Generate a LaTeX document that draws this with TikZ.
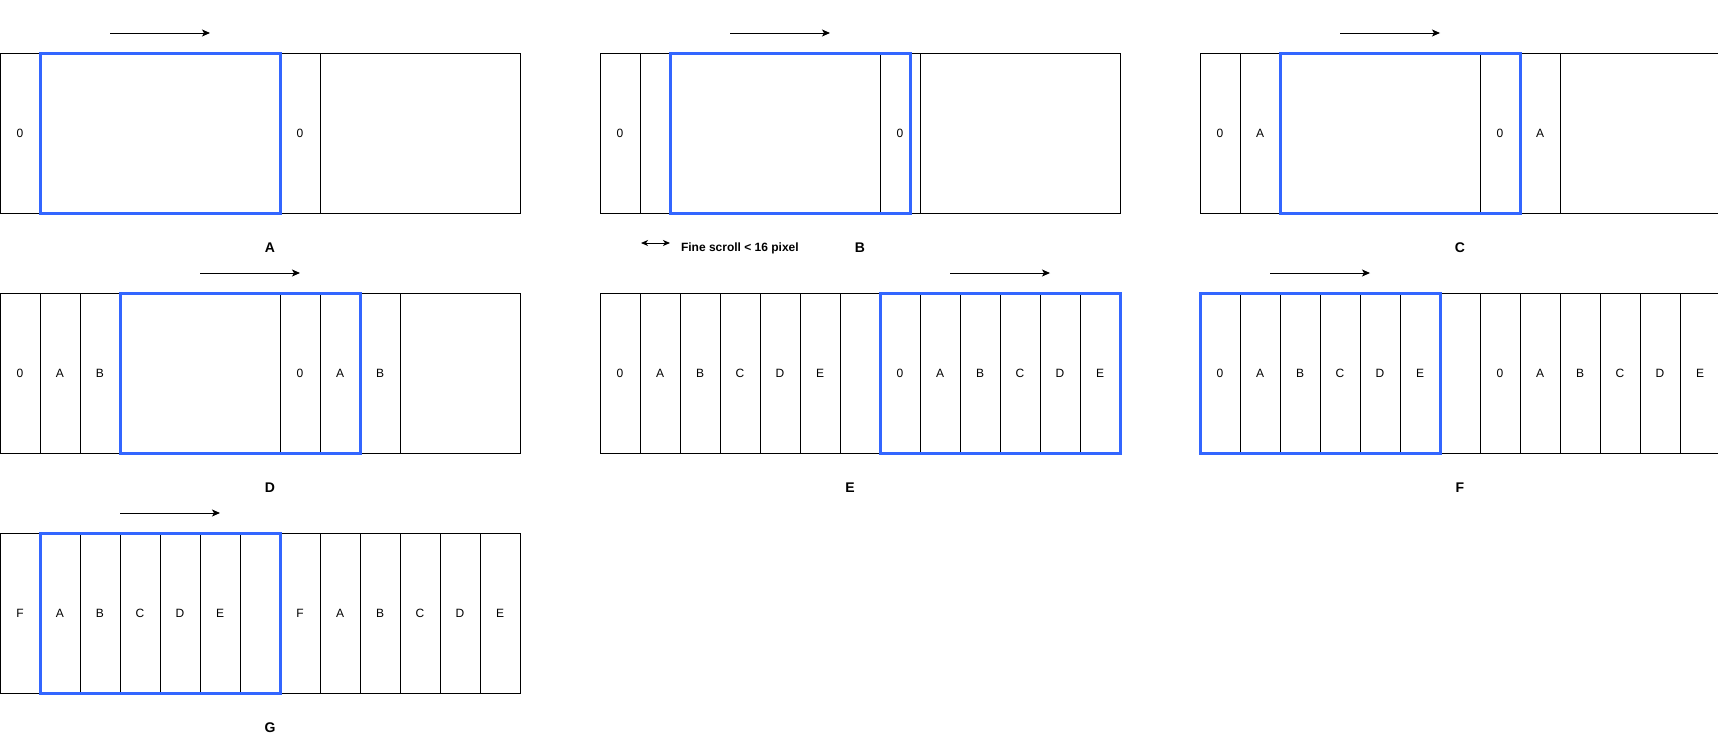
\documentclass[tikz,border=0pt]{standalone}
\usepackage{fontspec}
\setmainfont{Liberation Sans}
\usetikzlibrary{arrows.meta}
\definecolor{winblue}{RGB}{51,102,255}
\begin{document}
\begin{tikzpicture}[x=1pt,y=-1pt]
\tikzstyle{every node}+=[inner sep=0pt,outer sep=0pt]
\tikzstyle{cell}=[draw=black,line width=1pt,minimum width=40pt,minimum height=160pt,anchor=north west,font=\fontsize{12}{14}\selectfont]
\tikzstyle{win}=[draw=winblue,line width=3pt,minimum width=240pt,minimum height=160pt,anchor=north west]
\tikzstyle{scrollarr}=[line width=1pt,-{Stealth[length=8pt,width=7pt,inset=2pt]}]
\tikzstyle{finearr}=[line width=1pt,{Stealth[length=7pt,width=6pt,inset=2pt]}-{Stealth[length=7pt,width=6pt,inset=2pt]}]
\tikzstyle{caption}=[font=\fontsize{14}{16}\selectfont\bfseries]
\useasboundingbox (0,0) rectangle (1718,744);

% A
\begin{scope}[shift={(0,53)}]
\foreach \x/\w/\t [count=\i] in {0/40/0,40/240/{},280/40/0,320/200/{}}
  \node[cell,minimum width=\w pt] (a\i) at (\x,0) {\t};
\node[win] (awin) at (40,0) {};
\coordinate (aL) at (110,-20);
\coordinate (aR) at (210,-20);
\draw[scrollarr] (aL) -- (aR);
\node[caption] (acap) at (270,195) {A};
\end{scope}

% B
\begin{scope}[shift={(600,53)}]
\foreach \x/\w/\t [count=\i] in {0/40/0,40/240/{},280/40/0,320/200/{}}
  \node[cell,minimum width=\w pt] (b\i) at (\x,0) {\t};
\node[win] (bwin) at (70,0) {};
\coordinate (bL) at (130,-20);
\coordinate (bR) at (230,-20);
\draw[scrollarr] (bL) -- (bR);
\node[caption] (bcap) at (260,195) {B};
\coordinate (fineL) at (41,190);
\coordinate (fineR) at (70,190);
\draw[finearr] (fineL) -- (fineR);
\node[font=\fontsize{12}{14}\selectfont\bfseries,anchor=west] (finetxt) at (81,195) {Fine scroll < 16 pixel};
\end{scope}

% C
\begin{scope}[shift={(1200,53)}]
\foreach \x/\w/\t [count=\i] in {0/40/0,40/40/A,80/200/{},280/40/0,320/40/A,360/160/{}}
  \node[cell,minimum width=\w pt] (c\i) at (\x,0) {\t};
\node[win] (cwin) at (80,0) {};
\coordinate (cL) at (140,-20);
\coordinate (cR) at (240,-20);
\draw[scrollarr] (cL) -- (cR);
\node[caption] (ccap) at (260,195) {C};
\end{scope}

% D
\begin{scope}[shift={(0,293)}]
\foreach \x/\w/\t [count=\i] in {0/40/0,40/40/A,80/40/B,120/160/{},280/40/0,320/40/A,360/40/B,400/120/{}}
  \node[cell,minimum width=\w pt] (d\i) at (\x,0) {\t};
\node[win] (dwin) at (120,0) {};
\coordinate (dL) at (200,-20);
\coordinate (dR) at (300,-20);
\draw[scrollarr] (dL) -- (dR);
\node[caption] (dcap) at (270,195) {D};
\end{scope}

% E
\begin{scope}[shift={(600,293)}]
\foreach \t [count=\i] in {0,A,B,C,D,E}
  \node[cell] (e\i) at ({40*(\i-1)},0) {\t};
\node[cell] (egap) at (240,0) {};
\foreach \t [count=\i] in {0,A,B,C,D,E}
  \node[cell] (ee\i) at ({280+40*(\i-1)},0) {\t};
\node[win] (ewin) at (280,0) {};
\coordinate (eL) at (350,-20);
\coordinate (eR) at (450,-20);
\draw[scrollarr] (eL) -- (eR);
\node[caption] (ecap) at (250,195) {E};
\end{scope}

% F
\begin{scope}[shift={(1200,293)}]
\foreach \t [count=\i] in {0,A,B,C,D,E}
  \node[cell] (f\i) at ({40*(\i-1)},0) {\t};
\node[cell] (fgap) at (240,0) {};
\foreach \t [count=\i] in {0,A,B,C,D,E}
  \node[cell] (ff\i) at ({280+40*(\i-1)},0) {\t};
\node[win] (fwin) at (0,0) {};
\coordinate (fL) at (70,-20);
\coordinate (fR) at (170,-20);
\draw[scrollarr] (fL) -- (fR);
\node[caption] (fcap) at (260,195) {F};
\end{scope}

% G
\begin{scope}[shift={(0,533)}]
\foreach \t [count=\i] in {F,A,B,C,D,E}
  \node[cell] (g\i) at ({40*(\i-1)},0) {\t};
\node[cell] (ggap) at (240,0) {};
\foreach \t [count=\i] in {F,A,B,C,D,E}
  \node[cell] (gg\i) at ({280+40*(\i-1)},0) {\t};
\node[win] (gwin) at (40,0) {};
\coordinate (gL) at (120,-20);
\coordinate (gR) at (220,-20);
\draw[scrollarr] (gL) -- (gR);
\node[caption] (gcap) at (270,195) {G};
\end{scope}
\end{tikzpicture}
\end{document}
